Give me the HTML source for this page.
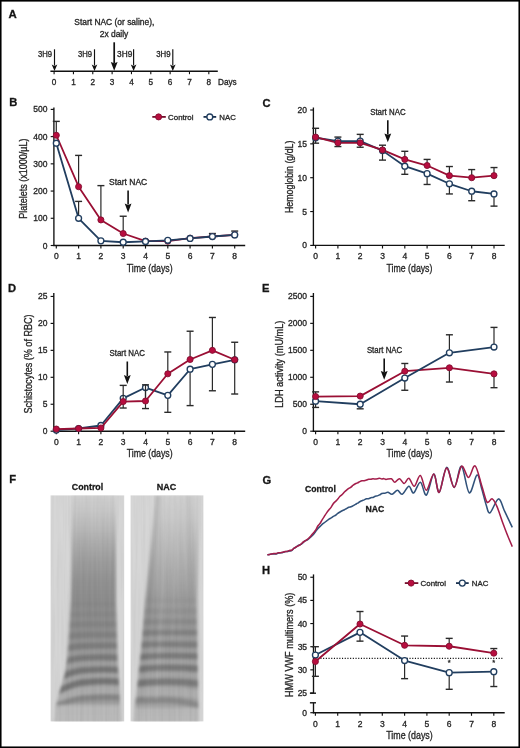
<!DOCTYPE html>
<html><head><meta charset="utf-8"><style>
html,body{margin:0;padding:0;background:#fff;}
#fig{position:absolute;left:0;top:0;width:520px;height:748px;}
svg text{font-family:"Liberation Sans", sans-serif;stroke:#2a2a2a;stroke-width:0.32px;}
#fig{will-change:transform;}
</style></head><body>
<svg id="fig" width="520" height="748" viewBox="0 0 520 748">
<rect x="0" y="0" width="520" height="748" fill="#fff"/>
<text x="8.50" y="17.80" font-size="11.4" text-anchor="start" font-weight="bold" fill="#111" >A</text>
<line x1="50.40" y1="71.30" x2="217.80" y2="71.30" stroke="#111" stroke-width="1.6" />
<line x1="54.10" y1="71.30" x2="54.10" y2="74.20" stroke="#111" stroke-width="1.1" />
<text x="54.10" y="85.00" font-size="8.2" text-anchor="middle" font-weight="normal" fill="#222" >0</text>
<line x1="73.44" y1="71.30" x2="73.44" y2="74.20" stroke="#111" stroke-width="1.1" />
<text x="73.44" y="85.00" font-size="8.2" text-anchor="middle" font-weight="normal" fill="#222" >1</text>
<line x1="92.78" y1="71.30" x2="92.78" y2="74.20" stroke="#111" stroke-width="1.1" />
<text x="92.78" y="85.00" font-size="8.2" text-anchor="middle" font-weight="normal" fill="#222" >2</text>
<line x1="112.12" y1="71.30" x2="112.12" y2="74.20" stroke="#111" stroke-width="1.1" />
<text x="112.12" y="85.00" font-size="8.2" text-anchor="middle" font-weight="normal" fill="#222" >3</text>
<line x1="131.46" y1="71.30" x2="131.46" y2="74.20" stroke="#111" stroke-width="1.1" />
<text x="131.46" y="85.00" font-size="8.2" text-anchor="middle" font-weight="normal" fill="#222" >4</text>
<line x1="150.80" y1="71.30" x2="150.80" y2="74.20" stroke="#111" stroke-width="1.1" />
<text x="150.80" y="85.00" font-size="8.2" text-anchor="middle" font-weight="normal" fill="#222" >5</text>
<line x1="170.14" y1="71.30" x2="170.14" y2="74.20" stroke="#111" stroke-width="1.1" />
<text x="170.14" y="85.00" font-size="8.2" text-anchor="middle" font-weight="normal" fill="#222" >6</text>
<line x1="189.48" y1="71.30" x2="189.48" y2="74.20" stroke="#111" stroke-width="1.1" />
<text x="189.48" y="85.00" font-size="8.2" text-anchor="middle" font-weight="normal" fill="#222" >7</text>
<line x1="208.82" y1="71.30" x2="208.82" y2="74.20" stroke="#111" stroke-width="1.1" />
<text x="208.82" y="85.00" font-size="8.2" text-anchor="middle" font-weight="normal" fill="#222" >8</text>
<text x="218.00" y="85.00" font-size="8.2" text-anchor="start" font-weight="normal" fill="#222" >Days</text>
<text x="114.30" y="25.00" font-size="8.4" text-anchor="middle" font-weight="normal" fill="#222" textLength="80" lengthAdjust="spacingAndGlyphs" >Start NAC (or saline),</text>
<text x="114.00" y="37.20" font-size="8.4" text-anchor="middle" font-weight="normal" fill="#222" textLength="28.6" lengthAdjust="spacingAndGlyphs" >2x daily</text>
<line x1="54.50" y1="49.30" x2="54.50" y2="65.60" stroke="#111" stroke-width="1.15" />
<path d="M51.70,64.60 L54.50,71.00 L57.30,64.60 L54.50,65.90 Z" fill="#111"/>
<text x="52.00" y="57.00" font-size="8.2" text-anchor="end" font-weight="normal" fill="#222" textLength="14.1" lengthAdjust="spacingAndGlyphs" >3H9</text>
<line x1="94.50" y1="49.30" x2="94.50" y2="65.60" stroke="#111" stroke-width="1.15" />
<path d="M91.70,64.60 L94.50,71.00 L97.30,64.60 L94.50,65.90 Z" fill="#111"/>
<text x="92.00" y="57.00" font-size="8.2" text-anchor="end" font-weight="normal" fill="#222" textLength="14.1" lengthAdjust="spacingAndGlyphs" >3H9</text>
<line x1="133.60" y1="49.30" x2="133.60" y2="65.60" stroke="#111" stroke-width="1.15" />
<path d="M130.80,64.60 L133.60,71.00 L136.40,64.60 L133.60,65.90 Z" fill="#111"/>
<text x="132.30" y="57.00" font-size="8.2" text-anchor="end" font-weight="normal" fill="#222" textLength="15.2" lengthAdjust="spacingAndGlyphs" >3H9</text>
<line x1="172.80" y1="49.30" x2="172.80" y2="65.60" stroke="#111" stroke-width="1.15" />
<path d="M170.00,64.60 L172.80,71.00 L175.60,64.60 L172.80,65.90 Z" fill="#111"/>
<text x="170.50" y="57.00" font-size="8.2" text-anchor="end" font-weight="normal" fill="#222" textLength="14.3" lengthAdjust="spacingAndGlyphs" >3H9</text>
<line x1="114.20" y1="42.30" x2="114.20" y2="63.00" stroke="#111" stroke-width="1.7" />
<path d="M110.80,62.00 L114.20,70.70 L117.60,62.00 L114.20,63.30 Z" fill="#111"/>
<line x1="53.90" y1="107.50" x2="53.90" y2="246.10" stroke="#111" stroke-width="1.35" />
<line x1="53.30" y1="245.50" x2="245.20" y2="245.50" stroke="#111" stroke-width="1.35" />
<line x1="50.70" y1="245.50" x2="53.90" y2="245.50" stroke="#111" stroke-width="1.15" />
<text x="47.50" y="248.50" font-size="8.5" text-anchor="end" font-weight="normal" fill="#222" >0</text>
<line x1="50.70" y1="218.28" x2="53.90" y2="218.28" stroke="#111" stroke-width="1.15" />
<text x="47.50" y="221.28" font-size="8.5" text-anchor="end" font-weight="normal" fill="#222" >100</text>
<line x1="50.70" y1="191.06" x2="53.90" y2="191.06" stroke="#111" stroke-width="1.15" />
<text x="47.50" y="194.06" font-size="8.5" text-anchor="end" font-weight="normal" fill="#222" >200</text>
<line x1="50.70" y1="163.84" x2="53.90" y2="163.84" stroke="#111" stroke-width="1.15" />
<text x="47.50" y="166.84" font-size="8.5" text-anchor="end" font-weight="normal" fill="#222" >300</text>
<line x1="50.70" y1="136.62" x2="53.90" y2="136.62" stroke="#111" stroke-width="1.15" />
<text x="47.50" y="139.62" font-size="8.5" text-anchor="end" font-weight="normal" fill="#222" >400</text>
<line x1="50.70" y1="109.40" x2="53.90" y2="109.40" stroke="#111" stroke-width="1.15" />
<text x="47.50" y="112.40" font-size="8.5" text-anchor="end" font-weight="normal" fill="#222" >500</text>
<line x1="56.30" y1="245.50" x2="56.30" y2="248.60" stroke="#111" stroke-width="1.15" />
<text x="56.30" y="259.30" font-size="8.5" text-anchor="middle" font-weight="normal" fill="#222" >0</text>
<line x1="78.60" y1="245.50" x2="78.60" y2="248.60" stroke="#111" stroke-width="1.15" />
<text x="78.60" y="259.30" font-size="8.5" text-anchor="middle" font-weight="normal" fill="#222" >1</text>
<line x1="100.90" y1="245.50" x2="100.90" y2="248.60" stroke="#111" stroke-width="1.15" />
<text x="100.90" y="259.30" font-size="8.5" text-anchor="middle" font-weight="normal" fill="#222" >2</text>
<line x1="123.20" y1="245.50" x2="123.20" y2="248.60" stroke="#111" stroke-width="1.15" />
<text x="123.20" y="259.30" font-size="8.5" text-anchor="middle" font-weight="normal" fill="#222" >3</text>
<line x1="145.50" y1="245.50" x2="145.50" y2="248.60" stroke="#111" stroke-width="1.15" />
<text x="145.50" y="259.30" font-size="8.5" text-anchor="middle" font-weight="normal" fill="#222" >4</text>
<line x1="167.80" y1="245.50" x2="167.80" y2="248.60" stroke="#111" stroke-width="1.15" />
<text x="167.80" y="259.30" font-size="8.5" text-anchor="middle" font-weight="normal" fill="#222" >5</text>
<line x1="190.10" y1="245.50" x2="190.10" y2="248.60" stroke="#111" stroke-width="1.15" />
<text x="190.10" y="259.30" font-size="8.5" text-anchor="middle" font-weight="normal" fill="#222" >6</text>
<line x1="212.40" y1="245.50" x2="212.40" y2="248.60" stroke="#111" stroke-width="1.15" />
<text x="212.40" y="259.30" font-size="8.5" text-anchor="middle" font-weight="normal" fill="#222" >7</text>
<line x1="234.70" y1="245.50" x2="234.70" y2="248.60" stroke="#111" stroke-width="1.15" />
<text x="234.70" y="259.30" font-size="8.5" text-anchor="middle" font-weight="normal" fill="#222" >8</text>
<text x="149.70" y="271.70" font-size="10.4" text-anchor="middle" font-weight="normal" fill="#222" textLength="45.8" lengthAdjust="spacingAndGlyphs" >Time (days)</text>
<text x="0" y="0" font-size="10.3" text-anchor="middle" fill="#222" textLength="80.2" lengthAdjust="spacingAndGlyphs" transform="translate(27.20,178.60) rotate(-90)">Platelets (x1000/µL)</text>
<text x="9.30" y="105.60" font-size="11.2" text-anchor="start" font-weight="bold" fill="#111" >B</text>
<line x1="56.30" y1="135.26" x2="56.30" y2="121.38" stroke="#2a2a2a" stroke-width="1.2" />
<line x1="52.80" y1="121.38" x2="59.80" y2="121.38" stroke="#2a2a2a" stroke-width="1.4" />
<line x1="78.60" y1="186.70" x2="78.60" y2="155.40" stroke="#2a2a2a" stroke-width="1.2" />
<line x1="75.10" y1="155.40" x2="82.10" y2="155.40" stroke="#2a2a2a" stroke-width="1.4" />
<line x1="100.90" y1="219.91" x2="100.90" y2="185.62" stroke="#2a2a2a" stroke-width="1.2" />
<line x1="97.40" y1="185.62" x2="104.40" y2="185.62" stroke="#2a2a2a" stroke-width="1.4" />
<line x1="123.20" y1="233.52" x2="123.20" y2="216.24" stroke="#2a2a2a" stroke-width="1.2" />
<line x1="119.70" y1="216.24" x2="126.70" y2="216.24" stroke="#2a2a2a" stroke-width="1.4" />
<line x1="78.60" y1="218.28" x2="78.60" y2="201.40" stroke="#2a2a2a" stroke-width="1.2" />
<line x1="75.10" y1="201.40" x2="82.10" y2="201.40" stroke="#2a2a2a" stroke-width="1.4" />
<line x1="212.40" y1="236.52" x2="212.40" y2="233.52" stroke="#2a2a2a" stroke-width="1.2" />
<line x1="208.90" y1="233.52" x2="215.90" y2="233.52" stroke="#2a2a2a" stroke-width="1.4" />
<line x1="234.70" y1="234.88" x2="234.70" y2="231.07" stroke="#2a2a2a" stroke-width="1.2" />
<line x1="231.20" y1="231.07" x2="238.20" y2="231.07" stroke="#2a2a2a" stroke-width="1.4" />
<path d="M56.30,135.26 L78.60,186.70 L100.90,219.91 L123.20,233.52 L145.50,241.14 L167.80,241.14 L190.10,238.15 L212.40,236.52 L234.70,234.88" fill="none" stroke="#9a0f34" stroke-width="1.8" stroke-linejoin="round"/>
<path d="M56.30,143.15 L78.60,218.28 L100.90,240.87 L123.20,242.23 L145.50,241.42 L167.80,240.33 L190.10,238.42 L212.40,236.52 L234.70,234.88" fill="none" stroke="#213e5f" stroke-width="1.8" stroke-linejoin="round"/>
<circle cx="56.30" cy="135.26" r="3.05" fill="#b80d3f" stroke="#820e30" stroke-width="0.9"/>
<circle cx="78.60" cy="186.70" r="3.05" fill="#b80d3f" stroke="#820e30" stroke-width="0.9"/>
<circle cx="100.90" cy="219.91" r="3.05" fill="#b80d3f" stroke="#820e30" stroke-width="0.9"/>
<circle cx="123.20" cy="233.52" r="3.05" fill="#b80d3f" stroke="#820e30" stroke-width="0.9"/>
<circle cx="145.50" cy="241.14" r="3.05" fill="#b80d3f" stroke="#820e30" stroke-width="0.9"/>
<circle cx="167.80" cy="241.14" r="3.05" fill="#b80d3f" stroke="#820e30" stroke-width="0.9"/>
<circle cx="190.10" cy="238.15" r="3.05" fill="#b80d3f" stroke="#820e30" stroke-width="0.9"/>
<circle cx="212.40" cy="236.52" r="3.05" fill="#b80d3f" stroke="#820e30" stroke-width="0.9"/>
<circle cx="234.70" cy="234.88" r="3.05" fill="#b80d3f" stroke="#820e30" stroke-width="0.9"/>
<circle cx="56.30" cy="143.15" r="2.95" fill="#fff" stroke="#213e5f" stroke-width="1.35"/>
<circle cx="78.60" cy="218.28" r="2.95" fill="#fff" stroke="#213e5f" stroke-width="1.35"/>
<circle cx="100.90" cy="240.87" r="2.95" fill="#fff" stroke="#213e5f" stroke-width="1.35"/>
<circle cx="123.20" cy="242.23" r="2.95" fill="#fff" stroke="#213e5f" stroke-width="1.35"/>
<circle cx="145.50" cy="241.42" r="2.95" fill="#fff" stroke="#213e5f" stroke-width="1.35"/>
<circle cx="167.80" cy="240.33" r="2.95" fill="#fff" stroke="#213e5f" stroke-width="1.35"/>
<circle cx="190.10" cy="238.42" r="2.95" fill="#fff" stroke="#213e5f" stroke-width="1.35"/>
<circle cx="212.40" cy="236.52" r="2.95" fill="#fff" stroke="#213e5f" stroke-width="1.35"/>
<circle cx="234.70" cy="234.88" r="2.95" fill="#fff" stroke="#213e5f" stroke-width="1.35"/>
<line x1="152.30" y1="116.90" x2="165.80" y2="116.90" stroke="#74102c" stroke-width="1.8" />
<circle cx="158.60" cy="116.90" r="3.05" fill="#b80d3f" stroke="#820e30" stroke-width="0.9"/>
<text x="168.10" y="119.80" font-size="7.9" text-anchor="start" font-weight="normal" fill="#222" textLength="25.4" lengthAdjust="spacingAndGlyphs" >Control</text>
<line x1="203.50" y1="116.90" x2="216.20" y2="116.90" stroke="#1c3350" stroke-width="1.8" />
<circle cx="209.80" cy="116.90" r="2.95" fill="#fff" stroke="#213e5f" stroke-width="1.35"/>
<text x="219.30" y="119.80" font-size="7.9" text-anchor="start" font-weight="normal" fill="#222" textLength="16.5" lengthAdjust="spacingAndGlyphs" >NAC</text>
<text x="109.00" y="185.00" font-size="8.6" text-anchor="start" font-weight="normal" fill="#222" textLength="38.2" lengthAdjust="spacingAndGlyphs" >Start NAC</text>
<line x1="128.10" y1="190.60" x2="128.10" y2="204.60" stroke="#111" stroke-width="1.6" />
<path d="M124.70,203.60 L128.10,212.40 L131.50,203.60 L128.10,204.90 Z" fill="#111"/>
<line x1="313.40" y1="107.50" x2="313.40" y2="246.00" stroke="#111" stroke-width="1.35" />
<line x1="312.80" y1="245.40" x2="504.70" y2="245.40" stroke="#111" stroke-width="1.35" />
<line x1="310.20" y1="245.40" x2="313.40" y2="245.40" stroke="#111" stroke-width="1.15" />
<text x="307.00" y="248.40" font-size="8.5" text-anchor="end" font-weight="normal" fill="#222" >0</text>
<line x1="310.20" y1="211.55" x2="313.40" y2="211.55" stroke="#111" stroke-width="1.15" />
<text x="307.00" y="214.55" font-size="8.5" text-anchor="end" font-weight="normal" fill="#222" >5</text>
<line x1="310.20" y1="177.70" x2="313.40" y2="177.70" stroke="#111" stroke-width="1.15" />
<text x="307.00" y="180.70" font-size="8.5" text-anchor="end" font-weight="normal" fill="#222" >10</text>
<line x1="310.20" y1="143.85" x2="313.40" y2="143.85" stroke="#111" stroke-width="1.15" />
<text x="307.00" y="146.85" font-size="8.5" text-anchor="end" font-weight="normal" fill="#222" >15</text>
<line x1="310.20" y1="110.00" x2="313.40" y2="110.00" stroke="#111" stroke-width="1.15" />
<text x="307.00" y="113.00" font-size="8.5" text-anchor="end" font-weight="normal" fill="#222" >20</text>
<line x1="315.60" y1="245.40" x2="315.60" y2="248.50" stroke="#111" stroke-width="1.15" />
<text x="315.60" y="259.20" font-size="8.5" text-anchor="middle" font-weight="normal" fill="#222" >0</text>
<line x1="337.90" y1="245.40" x2="337.90" y2="248.50" stroke="#111" stroke-width="1.15" />
<text x="337.90" y="259.20" font-size="8.5" text-anchor="middle" font-weight="normal" fill="#222" >1</text>
<line x1="360.20" y1="245.40" x2="360.20" y2="248.50" stroke="#111" stroke-width="1.15" />
<text x="360.20" y="259.20" font-size="8.5" text-anchor="middle" font-weight="normal" fill="#222" >2</text>
<line x1="382.50" y1="245.40" x2="382.50" y2="248.50" stroke="#111" stroke-width="1.15" />
<text x="382.50" y="259.20" font-size="8.5" text-anchor="middle" font-weight="normal" fill="#222" >3</text>
<line x1="404.80" y1="245.40" x2="404.80" y2="248.50" stroke="#111" stroke-width="1.15" />
<text x="404.80" y="259.20" font-size="8.5" text-anchor="middle" font-weight="normal" fill="#222" >4</text>
<line x1="427.10" y1="245.40" x2="427.10" y2="248.50" stroke="#111" stroke-width="1.15" />
<text x="427.10" y="259.20" font-size="8.5" text-anchor="middle" font-weight="normal" fill="#222" >5</text>
<line x1="449.40" y1="245.40" x2="449.40" y2="248.50" stroke="#111" stroke-width="1.15" />
<text x="449.40" y="259.20" font-size="8.5" text-anchor="middle" font-weight="normal" fill="#222" >6</text>
<line x1="471.70" y1="245.40" x2="471.70" y2="248.50" stroke="#111" stroke-width="1.15" />
<text x="471.70" y="259.20" font-size="8.5" text-anchor="middle" font-weight="normal" fill="#222" >7</text>
<line x1="494.00" y1="245.40" x2="494.00" y2="248.50" stroke="#111" stroke-width="1.15" />
<text x="494.00" y="259.20" font-size="8.5" text-anchor="middle" font-weight="normal" fill="#222" >8</text>
<text x="409.50" y="271.60" font-size="10.4" text-anchor="middle" font-weight="normal" fill="#222" textLength="45.8" lengthAdjust="spacingAndGlyphs" >Time (days)</text>
<text x="0" y="0" font-size="10.3" text-anchor="middle" fill="#222" textLength="72.4" lengthAdjust="spacingAndGlyphs" transform="translate(292.60,176.80) rotate(-90)">Hemoglobin (g/dL)</text>
<text x="262.50" y="106.80" font-size="11.2" text-anchor="start" font-weight="bold" fill="#111" >C</text>
<line x1="315.60" y1="137.08" x2="315.60" y2="128.28" stroke="#2a2a2a" stroke-width="1.2" />
<line x1="312.10" y1="128.28" x2="319.10" y2="128.28" stroke="#2a2a2a" stroke-width="1.4" />
<line x1="315.60" y1="137.76" x2="315.60" y2="143.17" stroke="#2a2a2a" stroke-width="1.2" />
<line x1="312.10" y1="143.17" x2="319.10" y2="143.17" stroke="#2a2a2a" stroke-width="1.4" />
<line x1="337.90" y1="142.83" x2="337.90" y2="137.08" stroke="#2a2a2a" stroke-width="1.2" />
<line x1="334.40" y1="137.08" x2="341.40" y2="137.08" stroke="#2a2a2a" stroke-width="1.4" />
<line x1="337.90" y1="141.14" x2="337.90" y2="146.56" stroke="#2a2a2a" stroke-width="1.2" />
<line x1="334.40" y1="146.56" x2="341.40" y2="146.56" stroke="#2a2a2a" stroke-width="1.4" />
<line x1="360.20" y1="142.83" x2="360.20" y2="134.37" stroke="#2a2a2a" stroke-width="1.2" />
<line x1="356.70" y1="134.37" x2="363.70" y2="134.37" stroke="#2a2a2a" stroke-width="1.4" />
<line x1="360.20" y1="141.14" x2="360.20" y2="147.24" stroke="#2a2a2a" stroke-width="1.2" />
<line x1="356.70" y1="147.24" x2="363.70" y2="147.24" stroke="#2a2a2a" stroke-width="1.4" />
<line x1="382.50" y1="149.94" x2="382.50" y2="145.20" stroke="#2a2a2a" stroke-width="1.2" />
<line x1="379.00" y1="145.20" x2="386.00" y2="145.20" stroke="#2a2a2a" stroke-width="1.4" />
<line x1="382.50" y1="150.62" x2="382.50" y2="160.10" stroke="#2a2a2a" stroke-width="1.2" />
<line x1="379.00" y1="160.10" x2="386.00" y2="160.10" stroke="#2a2a2a" stroke-width="1.4" />
<line x1="404.80" y1="159.42" x2="404.80" y2="151.30" stroke="#2a2a2a" stroke-width="1.2" />
<line x1="401.30" y1="151.30" x2="408.30" y2="151.30" stroke="#2a2a2a" stroke-width="1.4" />
<line x1="404.80" y1="166.19" x2="404.80" y2="174.31" stroke="#2a2a2a" stroke-width="1.2" />
<line x1="401.30" y1="174.31" x2="408.30" y2="174.31" stroke="#2a2a2a" stroke-width="1.4" />
<line x1="427.10" y1="165.51" x2="427.10" y2="159.42" stroke="#2a2a2a" stroke-width="1.2" />
<line x1="423.60" y1="159.42" x2="430.60" y2="159.42" stroke="#2a2a2a" stroke-width="1.4" />
<line x1="427.10" y1="173.64" x2="427.10" y2="184.47" stroke="#2a2a2a" stroke-width="1.2" />
<line x1="423.60" y1="184.47" x2="430.60" y2="184.47" stroke="#2a2a2a" stroke-width="1.4" />
<line x1="449.40" y1="175.67" x2="449.40" y2="166.53" stroke="#2a2a2a" stroke-width="1.2" />
<line x1="445.90" y1="166.53" x2="452.90" y2="166.53" stroke="#2a2a2a" stroke-width="1.4" />
<line x1="449.40" y1="183.79" x2="449.40" y2="193.95" stroke="#2a2a2a" stroke-width="1.2" />
<line x1="445.90" y1="193.95" x2="452.90" y2="193.95" stroke="#2a2a2a" stroke-width="1.4" />
<line x1="471.70" y1="177.70" x2="471.70" y2="169.58" stroke="#2a2a2a" stroke-width="1.2" />
<line x1="468.20" y1="169.58" x2="475.20" y2="169.58" stroke="#2a2a2a" stroke-width="1.4" />
<line x1="471.70" y1="191.24" x2="471.70" y2="200.72" stroke="#2a2a2a" stroke-width="1.2" />
<line x1="468.20" y1="200.72" x2="475.20" y2="200.72" stroke="#2a2a2a" stroke-width="1.4" />
<line x1="494.00" y1="175.67" x2="494.00" y2="167.55" stroke="#2a2a2a" stroke-width="1.2" />
<line x1="490.50" y1="167.55" x2="497.50" y2="167.55" stroke="#2a2a2a" stroke-width="1.4" />
<line x1="494.00" y1="193.95" x2="494.00" y2="206.13" stroke="#2a2a2a" stroke-width="1.2" />
<line x1="490.50" y1="206.13" x2="497.50" y2="206.13" stroke="#2a2a2a" stroke-width="1.4" />
<path d="M315.60,137.76 L337.90,141.14 L360.20,141.14 L382.50,150.62 L404.80,166.19 L427.10,173.64 L449.40,183.79 L471.70,191.24 L494.00,193.95" fill="none" stroke="#213e5f" stroke-width="1.8" stroke-linejoin="round"/>
<path d="M315.60,137.08 L337.90,142.83 L360.20,142.83 L382.50,149.94 L404.80,159.42 L427.10,165.51 L449.40,175.67 L471.70,177.70 L494.00,175.67" fill="none" stroke="#9a0f34" stroke-width="1.8" stroke-linejoin="round"/>
<circle cx="315.60" cy="137.76" r="2.95" fill="#fff" stroke="#213e5f" stroke-width="1.35"/>
<circle cx="337.90" cy="141.14" r="2.95" fill="#fff" stroke="#213e5f" stroke-width="1.35"/>
<circle cx="360.20" cy="141.14" r="2.95" fill="#fff" stroke="#213e5f" stroke-width="1.35"/>
<circle cx="382.50" cy="150.62" r="2.95" fill="#fff" stroke="#213e5f" stroke-width="1.35"/>
<circle cx="404.80" cy="166.19" r="2.95" fill="#fff" stroke="#213e5f" stroke-width="1.35"/>
<circle cx="427.10" cy="173.64" r="2.95" fill="#fff" stroke="#213e5f" stroke-width="1.35"/>
<circle cx="449.40" cy="183.79" r="2.95" fill="#fff" stroke="#213e5f" stroke-width="1.35"/>
<circle cx="471.70" cy="191.24" r="2.95" fill="#fff" stroke="#213e5f" stroke-width="1.35"/>
<circle cx="494.00" cy="193.95" r="2.95" fill="#fff" stroke="#213e5f" stroke-width="1.35"/>
<circle cx="315.60" cy="137.08" r="3.05" fill="#b80d3f" stroke="#820e30" stroke-width="0.9"/>
<circle cx="337.90" cy="142.83" r="3.05" fill="#b80d3f" stroke="#820e30" stroke-width="0.9"/>
<circle cx="360.20" cy="142.83" r="3.05" fill="#b80d3f" stroke="#820e30" stroke-width="0.9"/>
<circle cx="382.50" cy="149.94" r="3.05" fill="#b80d3f" stroke="#820e30" stroke-width="0.9"/>
<circle cx="404.80" cy="159.42" r="3.05" fill="#b80d3f" stroke="#820e30" stroke-width="0.9"/>
<circle cx="427.10" cy="165.51" r="3.05" fill="#b80d3f" stroke="#820e30" stroke-width="0.9"/>
<circle cx="449.40" cy="175.67" r="3.05" fill="#b80d3f" stroke="#820e30" stroke-width="0.9"/>
<circle cx="471.70" cy="177.70" r="3.05" fill="#b80d3f" stroke="#820e30" stroke-width="0.9"/>
<circle cx="494.00" cy="175.67" r="3.05" fill="#b80d3f" stroke="#820e30" stroke-width="0.9"/>
<text x="370.20" y="115.20" font-size="8.4" text-anchor="start" font-weight="normal" fill="#222" textLength="35.4" lengthAdjust="spacingAndGlyphs" >Start NAC</text>
<line x1="387.80" y1="120.20" x2="387.80" y2="134.40" stroke="#111" stroke-width="1.6" />
<path d="M384.40,133.40 L387.80,142.20 L391.20,133.40 L387.80,134.70 Z" fill="#111"/>
<line x1="53.80" y1="293.00" x2="53.80" y2="431.80" stroke="#111" stroke-width="1.35" />
<line x1="53.20" y1="431.20" x2="245.20" y2="431.20" stroke="#111" stroke-width="1.35" />
<line x1="50.60" y1="431.20" x2="53.80" y2="431.20" stroke="#111" stroke-width="1.15" />
<text x="47.40" y="434.20" font-size="8.5" text-anchor="end" font-weight="normal" fill="#222" >0</text>
<line x1="50.60" y1="404.25" x2="53.80" y2="404.25" stroke="#111" stroke-width="1.15" />
<text x="47.40" y="407.25" font-size="8.5" text-anchor="end" font-weight="normal" fill="#222" >5</text>
<line x1="50.60" y1="377.30" x2="53.80" y2="377.30" stroke="#111" stroke-width="1.15" />
<text x="47.40" y="380.30" font-size="8.5" text-anchor="end" font-weight="normal" fill="#222" >10</text>
<line x1="50.60" y1="350.35" x2="53.80" y2="350.35" stroke="#111" stroke-width="1.15" />
<text x="47.40" y="353.35" font-size="8.5" text-anchor="end" font-weight="normal" fill="#222" >15</text>
<line x1="50.60" y1="323.40" x2="53.80" y2="323.40" stroke="#111" stroke-width="1.15" />
<text x="47.40" y="326.40" font-size="8.5" text-anchor="end" font-weight="normal" fill="#222" >20</text>
<line x1="50.60" y1="296.45" x2="53.80" y2="296.45" stroke="#111" stroke-width="1.15" />
<text x="47.40" y="299.45" font-size="8.5" text-anchor="end" font-weight="normal" fill="#222" >25</text>
<line x1="56.30" y1="431.20" x2="56.30" y2="434.30" stroke="#111" stroke-width="1.15" />
<text x="56.30" y="445.00" font-size="8.5" text-anchor="middle" font-weight="normal" fill="#222" >0</text>
<line x1="78.60" y1="431.20" x2="78.60" y2="434.30" stroke="#111" stroke-width="1.15" />
<text x="78.60" y="445.00" font-size="8.5" text-anchor="middle" font-weight="normal" fill="#222" >1</text>
<line x1="100.90" y1="431.20" x2="100.90" y2="434.30" stroke="#111" stroke-width="1.15" />
<text x="100.90" y="445.00" font-size="8.5" text-anchor="middle" font-weight="normal" fill="#222" >2</text>
<line x1="123.20" y1="431.20" x2="123.20" y2="434.30" stroke="#111" stroke-width="1.15" />
<text x="123.20" y="445.00" font-size="8.5" text-anchor="middle" font-weight="normal" fill="#222" >3</text>
<line x1="145.50" y1="431.20" x2="145.50" y2="434.30" stroke="#111" stroke-width="1.15" />
<text x="145.50" y="445.00" font-size="8.5" text-anchor="middle" font-weight="normal" fill="#222" >4</text>
<line x1="167.80" y1="431.20" x2="167.80" y2="434.30" stroke="#111" stroke-width="1.15" />
<text x="167.80" y="445.00" font-size="8.5" text-anchor="middle" font-weight="normal" fill="#222" >5</text>
<line x1="190.10" y1="431.20" x2="190.10" y2="434.30" stroke="#111" stroke-width="1.15" />
<text x="190.10" y="445.00" font-size="8.5" text-anchor="middle" font-weight="normal" fill="#222" >6</text>
<line x1="212.40" y1="431.20" x2="212.40" y2="434.30" stroke="#111" stroke-width="1.15" />
<text x="212.40" y="445.00" font-size="8.5" text-anchor="middle" font-weight="normal" fill="#222" >7</text>
<line x1="234.70" y1="431.20" x2="234.70" y2="434.30" stroke="#111" stroke-width="1.15" />
<text x="234.70" y="445.00" font-size="8.5" text-anchor="middle" font-weight="normal" fill="#222" >8</text>
<text x="149.70" y="457.40" font-size="10.4" text-anchor="middle" font-weight="normal" fill="#222" textLength="45.8" lengthAdjust="spacingAndGlyphs" >Time (days)</text>
<text x="0" y="0" font-size="10.3" text-anchor="middle" fill="#222" textLength="99.2" lengthAdjust="spacingAndGlyphs" transform="translate(31.70,364.00) rotate(-90)">Schistocytes (% of RBC)</text>
<text x="8.00" y="292.30" font-size="11.2" text-anchor="start" font-weight="bold" fill="#111" >D</text>
<line x1="123.20" y1="398.32" x2="123.20" y2="408.02" stroke="#2a2a2a" stroke-width="1.2" />
<line x1="119.70" y1="408.02" x2="126.70" y2="408.02" stroke="#2a2a2a" stroke-width="1.4" />
<line x1="145.50" y1="387.54" x2="145.50" y2="408.56" stroke="#2a2a2a" stroke-width="1.2" />
<line x1="142.00" y1="408.56" x2="149.00" y2="408.56" stroke="#2a2a2a" stroke-width="1.4" />
<line x1="167.80" y1="395.36" x2="167.80" y2="412.33" stroke="#2a2a2a" stroke-width="1.2" />
<line x1="164.30" y1="412.33" x2="171.30" y2="412.33" stroke="#2a2a2a" stroke-width="1.4" />
<line x1="190.10" y1="369.21" x2="190.10" y2="405.60" stroke="#2a2a2a" stroke-width="1.2" />
<line x1="186.60" y1="405.60" x2="193.60" y2="405.60" stroke="#2a2a2a" stroke-width="1.4" />
<line x1="212.40" y1="364.36" x2="212.40" y2="390.77" stroke="#2a2a2a" stroke-width="1.2" />
<line x1="208.90" y1="390.77" x2="215.90" y2="390.77" stroke="#2a2a2a" stroke-width="1.4" />
<line x1="234.70" y1="359.78" x2="234.70" y2="394.01" stroke="#2a2a2a" stroke-width="1.2" />
<line x1="231.20" y1="394.01" x2="238.20" y2="394.01" stroke="#2a2a2a" stroke-width="1.4" />
<path d="M56.30,430.12 L78.60,428.50 L100.90,425.49 L123.20,398.32 L145.50,387.54 L167.80,395.36 L190.10,369.21 L212.40,364.36 L234.70,359.78" fill="none" stroke="#213e5f" stroke-width="1.8" stroke-linejoin="round"/>
<circle cx="56.30" cy="430.12" r="2.95" fill="#fff" stroke="#213e5f" stroke-width="1.35"/>
<circle cx="78.60" cy="428.50" r="2.95" fill="#fff" stroke="#213e5f" stroke-width="1.35"/>
<circle cx="100.90" cy="425.49" r="2.95" fill="#fff" stroke="#213e5f" stroke-width="1.35"/>
<circle cx="123.20" cy="398.32" r="2.95" fill="#fff" stroke="#213e5f" stroke-width="1.35"/>
<circle cx="145.50" cy="387.54" r="2.95" fill="#fff" stroke="#213e5f" stroke-width="1.35"/>
<circle cx="167.80" cy="395.36" r="2.95" fill="#fff" stroke="#213e5f" stroke-width="1.35"/>
<circle cx="190.10" cy="369.21" r="2.95" fill="#fff" stroke="#213e5f" stroke-width="1.35"/>
<circle cx="212.40" cy="364.36" r="2.95" fill="#fff" stroke="#213e5f" stroke-width="1.35"/>
<circle cx="234.70" cy="359.78" r="2.95" fill="#fff" stroke="#213e5f" stroke-width="1.35"/>
<line x1="123.20" y1="401.56" x2="123.20" y2="385.38" stroke="#2a2a2a" stroke-width="1.2" />
<line x1="119.70" y1="385.38" x2="126.70" y2="385.38" stroke="#2a2a2a" stroke-width="1.4" />
<line x1="145.50" y1="401.02" x2="145.50" y2="384.85" stroke="#2a2a2a" stroke-width="1.2" />
<line x1="142.00" y1="384.85" x2="149.00" y2="384.85" stroke="#2a2a2a" stroke-width="1.4" />
<line x1="167.80" y1="373.80" x2="167.80" y2="351.97" stroke="#2a2a2a" stroke-width="1.2" />
<line x1="164.30" y1="351.97" x2="171.30" y2="351.97" stroke="#2a2a2a" stroke-width="1.4" />
<line x1="190.10" y1="359.51" x2="190.10" y2="331.22" stroke="#2a2a2a" stroke-width="1.2" />
<line x1="186.60" y1="331.22" x2="193.60" y2="331.22" stroke="#2a2a2a" stroke-width="1.4" />
<line x1="212.40" y1="350.35" x2="212.40" y2="317.47" stroke="#2a2a2a" stroke-width="1.2" />
<line x1="208.90" y1="317.47" x2="215.90" y2="317.47" stroke="#2a2a2a" stroke-width="1.4" />
<line x1="234.70" y1="359.78" x2="234.70" y2="342.26" stroke="#2a2a2a" stroke-width="1.2" />
<line x1="231.20" y1="342.26" x2="238.20" y2="342.26" stroke="#2a2a2a" stroke-width="1.4" />
<path d="M56.30,429.04 L78.60,428.50 L100.90,427.97 L123.20,401.56 L145.50,401.02 L167.80,373.80 L190.10,359.51 L212.40,350.35 L234.70,359.78" fill="none" stroke="#9a0f34" stroke-width="1.8" stroke-linejoin="round"/>
<circle cx="56.30" cy="429.04" r="3.05" fill="#b80d3f" stroke="#820e30" stroke-width="0.9"/>
<circle cx="78.60" cy="428.50" r="3.05" fill="#b80d3f" stroke="#820e30" stroke-width="0.9"/>
<circle cx="100.90" cy="427.97" r="3.05" fill="#b80d3f" stroke="#820e30" stroke-width="0.9"/>
<circle cx="123.20" cy="401.56" r="3.05" fill="#b80d3f" stroke="#820e30" stroke-width="0.9"/>
<circle cx="145.50" cy="401.02" r="3.05" fill="#b80d3f" stroke="#820e30" stroke-width="0.9"/>
<circle cx="167.80" cy="373.80" r="3.05" fill="#b80d3f" stroke="#820e30" stroke-width="0.9"/>
<circle cx="190.10" cy="359.51" r="3.05" fill="#b80d3f" stroke="#820e30" stroke-width="0.9"/>
<circle cx="212.40" cy="350.35" r="3.05" fill="#b80d3f" stroke="#820e30" stroke-width="0.9"/>
<circle cx="234.70" cy="359.78" r="3.05" fill="#b80d3f" stroke="#820e30" stroke-width="0.9"/>
<text x="109.50" y="356.20" font-size="8.4" text-anchor="start" font-weight="normal" fill="#222" textLength="35.4" lengthAdjust="spacingAndGlyphs" >Start NAC</text>
<line x1="127.30" y1="361.50" x2="127.30" y2="376.10" stroke="#111" stroke-width="1.6" />
<path d="M123.90,375.10 L127.30,383.90 L130.70,375.10 L127.30,376.40 Z" fill="#111"/>
<line x1="313.40" y1="293.00" x2="313.40" y2="431.80" stroke="#111" stroke-width="1.35" />
<line x1="312.80" y1="431.20" x2="504.70" y2="431.20" stroke="#111" stroke-width="1.35" />
<line x1="310.20" y1="431.20" x2="313.40" y2="431.20" stroke="#111" stroke-width="1.15" />
<text x="307.00" y="434.20" font-size="8.5" text-anchor="end" font-weight="normal" fill="#222" >0</text>
<line x1="310.20" y1="404.24" x2="313.40" y2="404.24" stroke="#111" stroke-width="1.15" />
<text x="307.00" y="407.24" font-size="8.5" text-anchor="end" font-weight="normal" fill="#222" >500</text>
<line x1="310.20" y1="377.28" x2="313.40" y2="377.28" stroke="#111" stroke-width="1.15" />
<text x="307.00" y="380.28" font-size="8.5" text-anchor="end" font-weight="normal" fill="#222" >1000</text>
<line x1="310.20" y1="350.32" x2="313.40" y2="350.32" stroke="#111" stroke-width="1.15" />
<text x="307.00" y="353.32" font-size="8.5" text-anchor="end" font-weight="normal" fill="#222" >1500</text>
<line x1="310.20" y1="323.36" x2="313.40" y2="323.36" stroke="#111" stroke-width="1.15" />
<text x="307.00" y="326.36" font-size="8.5" text-anchor="end" font-weight="normal" fill="#222" >2000</text>
<line x1="310.20" y1="296.40" x2="313.40" y2="296.40" stroke="#111" stroke-width="1.15" />
<text x="307.00" y="299.40" font-size="8.5" text-anchor="end" font-weight="normal" fill="#222" >2500</text>
<line x1="315.60" y1="431.20" x2="315.60" y2="434.30" stroke="#111" stroke-width="1.15" />
<text x="315.60" y="445.00" font-size="8.5" text-anchor="middle" font-weight="normal" fill="#222" >0</text>
<line x1="337.90" y1="431.20" x2="337.90" y2="434.30" stroke="#111" stroke-width="1.15" />
<text x="337.90" y="445.00" font-size="8.5" text-anchor="middle" font-weight="normal" fill="#222" >1</text>
<line x1="360.20" y1="431.20" x2="360.20" y2="434.30" stroke="#111" stroke-width="1.15" />
<text x="360.20" y="445.00" font-size="8.5" text-anchor="middle" font-weight="normal" fill="#222" >2</text>
<line x1="382.50" y1="431.20" x2="382.50" y2="434.30" stroke="#111" stroke-width="1.15" />
<text x="382.50" y="445.00" font-size="8.5" text-anchor="middle" font-weight="normal" fill="#222" >3</text>
<line x1="404.80" y1="431.20" x2="404.80" y2="434.30" stroke="#111" stroke-width="1.15" />
<text x="404.80" y="445.00" font-size="8.5" text-anchor="middle" font-weight="normal" fill="#222" >4</text>
<line x1="427.10" y1="431.20" x2="427.10" y2="434.30" stroke="#111" stroke-width="1.15" />
<text x="427.10" y="445.00" font-size="8.5" text-anchor="middle" font-weight="normal" fill="#222" >5</text>
<line x1="449.40" y1="431.20" x2="449.40" y2="434.30" stroke="#111" stroke-width="1.15" />
<text x="449.40" y="445.00" font-size="8.5" text-anchor="middle" font-weight="normal" fill="#222" >6</text>
<line x1="471.70" y1="431.20" x2="471.70" y2="434.30" stroke="#111" stroke-width="1.15" />
<text x="471.70" y="445.00" font-size="8.5" text-anchor="middle" font-weight="normal" fill="#222" >7</text>
<line x1="494.00" y1="431.20" x2="494.00" y2="434.30" stroke="#111" stroke-width="1.15" />
<text x="494.00" y="445.00" font-size="8.5" text-anchor="middle" font-weight="normal" fill="#222" >8</text>
<text x="409.50" y="457.40" font-size="10.4" text-anchor="middle" font-weight="normal" fill="#222" textLength="45.8" lengthAdjust="spacingAndGlyphs" >Time (days)</text>
<text x="0" y="0" font-size="10.3" text-anchor="middle" fill="#222" textLength="87.2" lengthAdjust="spacingAndGlyphs" transform="translate(283.40,364.20) rotate(-90)">LDH activity (mU/mL)</text>
<text x="262.00" y="292.30" font-size="11.2" text-anchor="start" font-weight="bold" fill="#111" >E</text>
<line x1="315.60" y1="396.53" x2="315.60" y2="391.89" stroke="#2a2a2a" stroke-width="1.2" />
<line x1="312.10" y1="391.89" x2="319.10" y2="391.89" stroke="#2a2a2a" stroke-width="1.4" />
<line x1="404.80" y1="371.19" x2="404.80" y2="363.48" stroke="#2a2a2a" stroke-width="1.2" />
<line x1="401.30" y1="363.48" x2="408.30" y2="363.48" stroke="#2a2a2a" stroke-width="1.4" />
<line x1="449.40" y1="367.79" x2="449.40" y2="382.02" stroke="#2a2a2a" stroke-width="1.2" />
<line x1="445.90" y1="382.02" x2="452.90" y2="382.02" stroke="#2a2a2a" stroke-width="1.4" />
<line x1="494.00" y1="373.88" x2="494.00" y2="387.69" stroke="#2a2a2a" stroke-width="1.2" />
<line x1="490.50" y1="387.69" x2="497.50" y2="387.69" stroke="#2a2a2a" stroke-width="1.4" />
<line x1="315.60" y1="401.17" x2="315.60" y2="407.42" stroke="#2a2a2a" stroke-width="1.2" />
<line x1="312.10" y1="407.42" x2="319.10" y2="407.42" stroke="#2a2a2a" stroke-width="1.4" />
<line x1="360.20" y1="404.24" x2="360.20" y2="408.82" stroke="#2a2a2a" stroke-width="1.2" />
<line x1="356.70" y1="408.82" x2="363.70" y2="408.82" stroke="#2a2a2a" stroke-width="1.4" />
<line x1="404.80" y1="378.09" x2="404.80" y2="390.27" stroke="#2a2a2a" stroke-width="1.2" />
<line x1="401.30" y1="390.27" x2="408.30" y2="390.27" stroke="#2a2a2a" stroke-width="1.4" />
<line x1="449.40" y1="352.80" x2="449.40" y2="334.79" stroke="#2a2a2a" stroke-width="1.2" />
<line x1="445.90" y1="334.79" x2="452.90" y2="334.79" stroke="#2a2a2a" stroke-width="1.4" />
<line x1="494.00" y1="347.08" x2="494.00" y2="327.40" stroke="#2a2a2a" stroke-width="1.2" />
<line x1="490.50" y1="327.40" x2="497.50" y2="327.40" stroke="#2a2a2a" stroke-width="1.4" />
<path d="M315.60,396.53 L360.20,396.10 L404.80,371.19 L449.40,367.79 L494.00,373.88" fill="none" stroke="#9a0f34" stroke-width="1.8" stroke-linejoin="round"/>
<path d="M315.60,401.17 L360.20,404.24 L404.80,378.09 L449.40,352.80 L494.00,347.08" fill="none" stroke="#213e5f" stroke-width="1.8" stroke-linejoin="round"/>
<circle cx="315.60" cy="401.17" r="2.95" fill="#fff" stroke="#213e5f" stroke-width="1.35"/>
<circle cx="360.20" cy="404.24" r="2.95" fill="#fff" stroke="#213e5f" stroke-width="1.35"/>
<circle cx="404.80" cy="378.09" r="2.95" fill="#fff" stroke="#213e5f" stroke-width="1.35"/>
<circle cx="449.40" cy="352.80" r="2.95" fill="#fff" stroke="#213e5f" stroke-width="1.35"/>
<circle cx="494.00" cy="347.08" r="2.95" fill="#fff" stroke="#213e5f" stroke-width="1.35"/>
<circle cx="315.60" cy="396.53" r="3.05" fill="#b80d3f" stroke="#820e30" stroke-width="0.9"/>
<circle cx="360.20" cy="396.10" r="3.05" fill="#b80d3f" stroke="#820e30" stroke-width="0.9"/>
<circle cx="404.80" cy="371.19" r="3.05" fill="#b80d3f" stroke="#820e30" stroke-width="0.9"/>
<circle cx="449.40" cy="367.79" r="3.05" fill="#b80d3f" stroke="#820e30" stroke-width="0.9"/>
<circle cx="494.00" cy="373.88" r="3.05" fill="#b80d3f" stroke="#820e30" stroke-width="0.9"/>
<text x="366.90" y="353.30" font-size="8.4" text-anchor="start" font-weight="normal" fill="#222" textLength="35.3" lengthAdjust="spacingAndGlyphs" >Start NAC</text>
<line x1="384.20" y1="358.50" x2="384.20" y2="372.00" stroke="#111" stroke-width="1.6" />
<path d="M380.80,371.00 L384.20,379.80 L387.60,371.00 L384.20,372.30 Z" fill="#111"/>
<text x="9.30" y="483.30" font-size="11.2" text-anchor="start" font-weight="bold" fill="#111" >F</text>
<text x="87.50" y="490.30" font-size="9.6" text-anchor="middle" font-weight="bold" fill="#111" textLength="31.4" lengthAdjust="spacingAndGlyphs" >Control</text>
<text x="166.50" y="490.30" font-size="9.6" text-anchor="middle" font-weight="bold" fill="#111" textLength="19.5" lengthAdjust="spacingAndGlyphs" >NAC</text>
<defs>
<filter id="gblur" x="-10%" y="-10%" width="120%" height="120%"><feGaussianBlur stdDeviation="1.8"/></filter>
<filter id="noise" x="0" y="0" width="100%" height="100%"><feTurbulence type="fractalNoise" baseFrequency="0.35 0.012" numOctaves="2" seed="3"/>
<feColorMatrix type="matrix" values="0 0 0 0 0  0 0 0 0 0  0 0 0 0 0  0 0 0 -1.6 1.1"/></filter>
<linearGradient id="g1" x1="0" y1="495" x2="0" y2="722" gradientUnits="userSpaceOnUse">
<stop offset="0" stop-color="#cfcfcf"/><stop offset="0.066" stop-color="#c8c8c8"/><stop offset="0.154" stop-color="#b8b8b8"/><stop offset="0.22" stop-color="#aaaaaa"/>
<stop offset="0.286" stop-color="#9e9e9e"/><stop offset="0.374" stop-color="#929292"/><stop offset="0.46" stop-color="#8d8d8d"/><stop offset="0.6" stop-color="#8b8b8b"/><stop offset="0.8" stop-color="#929292"/><stop offset="1" stop-color="#a8a8a8"/></linearGradient>
<linearGradient id="g2" x1="0" y1="495" x2="0" y2="722" gradientUnits="userSpaceOnUse">
<stop offset="0" stop-color="#d0d0d0"/><stop offset="0.1" stop-color="#c9c9c9"/><stop offset="0.22" stop-color="#bababa"/><stop offset="0.32" stop-color="#adadad"/>
<stop offset="0.45" stop-color="#9d9d9d"/><stop offset="0.6" stop-color="#939393"/><stop offset="0.8" stop-color="#969696"/><stop offset="1" stop-color="#acacac"/></linearGradient>
</defs>
<rect x="50.60" y="495.4" width="73.60" height="226.00" fill="#d6d6d6"/>
<clipPath id="lc1"><rect x="50.60" y="495.4" width="73.60" height="226.00"/></clipPath>
<g clip-path="url(#lc1)">
<g filter="url(#gblur)">
<polygon points="72.00,495.40 71.80,560.00 70.80,600.00 68.50,640.00 67.00,660.00 64.50,675.00 60.00,690.00 56.00,705.00 54.50,722.00 121.00,722.00 119.50,690.00 117.50,660.00 116.00,600.00 116.00,495.40" fill="url(#g1)"/>
<clipPath id="sc1"><polygon points="72.00,495.40 71.80,560.00 70.80,600.00 68.50,640.00 67.00,660.00 64.50,675.00 60.00,690.00 56.00,705.00 54.50,722.00 121.00,722.00 119.50,690.00 117.50,660.00 116.00,600.00 116.00,495.40"/></clipPath>
<g clip-path="url(#sc1)">
<path d="M44.60,609.50 C66.60,609.50 75.40,609.50 88.60,609.50 Q108.40,609.50 128.20,609.50" fill="none" stroke="#c4c4c4" stroke-opacity="0.02" stroke-width="4.5"/>
<path d="M44.60,620.30 C66.60,619.65 75.40,619.30 88.60,619.30 Q108.40,619.30 128.20,619.30" fill="none" stroke="#c4c4c4" stroke-opacity="0.04" stroke-width="4.5"/>
<path d="M44.60,632.60 C66.60,630.65 75.40,629.60 88.60,629.60 Q108.40,629.60 128.20,629.60" fill="none" stroke="#c4c4c4" stroke-opacity="0.08" stroke-width="4.5"/>
<path d="M44.60,645.40 C66.60,642.15 75.40,640.40 88.60,640.40 Q108.40,640.40 128.20,640.40" fill="none" stroke="#c4c4c4" stroke-opacity="0.13" stroke-width="4.8"/>
<path d="M44.60,658.70 C66.60,654.15 75.40,651.70 88.60,651.70 Q108.40,651.00 128.20,651.70" fill="none" stroke="#c4c4c4" stroke-opacity="0.22" stroke-width="5.0"/>
<path d="M44.60,674.80 C66.60,667.65 75.40,663.80 88.60,663.80 Q108.40,662.60 128.20,664.80" fill="none" stroke="#c4c4c4" stroke-opacity="0.28" stroke-width="5.4"/>
<path d="M44.60,690.00 C66.60,680.90 75.40,676.00 88.60,676.00 Q108.40,674.30 128.20,677.00" fill="none" stroke="#c4c4c4" stroke-opacity="0.34" stroke-width="5.0"/>
<path d="M44.60,704.50 C66.60,695.40 75.40,690.50 88.60,690.50 Q108.40,688.80 128.20,691.50" fill="none" stroke="#c4c4c4" stroke-opacity="0.42" stroke-width="8.0"/>
<path d="M44.60,604.50 C66.60,604.50 75.40,604.50 88.60,604.50 Q108.40,604.50 128.20,604.50" fill="none" stroke="#4a4a4a" stroke-opacity="0.03" stroke-width="5.0"/>
<path d="M44.60,615.30 C66.60,614.65 75.40,614.30 88.60,614.30 Q108.40,614.30 128.20,614.30" fill="none" stroke="#4a4a4a" stroke-opacity="0.05" stroke-width="5.0"/>
<path d="M44.60,626.20 C66.60,624.90 75.40,624.20 88.60,624.20 Q108.40,624.20 128.20,624.20" fill="none" stroke="#4a4a4a" stroke-opacity="0.1" stroke-width="5.2"/>
<path d="M44.60,639.00 C66.60,636.40 75.40,635.00 88.60,635.00 Q108.40,635.00 128.20,635.00" fill="none" stroke="#4a4a4a" stroke-opacity="0.15" stroke-width="5.4"/>
<path d="M44.60,651.90 C66.60,648.00 75.40,645.90 88.60,645.90 Q108.40,645.40 128.20,645.90" fill="none" stroke="#4a4a4a" stroke-opacity="0.24" stroke-width="5.6"/>
<path d="M44.60,666.60 C66.60,660.75 75.40,657.60 88.60,657.60 Q108.40,656.60 128.20,658.60" fill="none" stroke="#4a4a4a" stroke-opacity="0.3" stroke-width="5.8"/>
<path d="M44.60,683.10 C66.60,674.65 75.40,670.10 88.60,670.10 Q108.40,668.60 128.20,671.10" fill="none" stroke="#4a4a4a" stroke-opacity="0.38" stroke-width="6.0"/>
<path d="M44.60,697.80 C66.60,687.40 75.40,681.80 88.60,681.80 Q108.40,679.80 128.20,682.80" fill="none" stroke="#4a4a4a" stroke-opacity="0.44" stroke-width="6.2"/>
<path d="M44.60,709.00 C66.60,701.85 75.40,698.00 88.60,698.00 Q108.40,696.50 128.20,698.00" fill="none" stroke="#4a4a4a" stroke-opacity="0.26" stroke-width="6.0"/>
<rect x="50.60" y="705.00" width="73.60" height="16.40" fill="#c8c8c8" opacity="0.6"/>
</g></g>
<rect x="50.60" y="495.40" width="73.60" height="226.00" filter="url(#noise)" opacity="0.04"/>
</g>
<rect x="130.60" y="495.4" width="72.80" height="226.00" fill="#d6d6d6"/>
<clipPath id="lc2"><rect x="130.60" y="495.4" width="72.80" height="226.00"/></clipPath>
<g clip-path="url(#lc2)">
<g filter="url(#gblur)">
<polygon points="155.20,495.40 151.10,539.00 146.20,588.00 145.00,600.00 140.90,650.00 137.50,683.00 135.00,703.50 133.50,722.00 198.80,722.00 196.80,600.00 199.30,495.40" fill="url(#g2)"/>
<clipPath id="sc2"><polygon points="155.20,495.40 151.10,539.00 146.20,588.00 145.00,600.00 140.90,650.00 137.50,683.00 135.00,703.50 133.50,722.00 198.80,722.00 196.80,600.00 199.30,495.40"/></clipPath>
<g clip-path="url(#sc2)">
<line x1="158" y1="495" x2="141" y2="700" stroke="#555" stroke-width="5" stroke-opacity="0.14"/>
<line x1="168" y1="495" x2="156" y2="700" stroke="#e0e0e0" stroke-width="3" stroke-opacity="0.18"/>
<line x1="189" y1="495" x2="191" y2="700" stroke="#555" stroke-width="3" stroke-opacity="0.08"/>
<line x1="178" y1="495" x2="172" y2="640" stroke="#e0e0e0" stroke-width="3" stroke-opacity="0.1"/>
<path d="M124.60,605.70 C142.60,605.70 149.80,605.70 160.60,605.70 Q184.00,605.70 207.40,605.70" fill="none" stroke="#c4c4c4" stroke-opacity="0.03" stroke-width="4.5"/>
<path d="M124.60,616.30 C142.60,616.30 149.80,616.30 160.60,616.30 Q184.00,616.30 207.40,616.30" fill="none" stroke="#c4c4c4" stroke-opacity="0.05" stroke-width="4.5"/>
<path d="M124.60,628.10 C142.60,627.45 149.80,627.10 160.60,627.10 Q184.00,627.10 207.40,627.10" fill="none" stroke="#c4c4c4" stroke-opacity="0.1" stroke-width="4.5"/>
<path d="M124.60,639.40 C142.60,638.75 149.80,638.40 160.60,638.40 Q184.00,638.40 207.40,638.40" fill="none" stroke="#c4c4c4" stroke-opacity="0.18" stroke-width="4.8"/>
<path d="M124.60,652.00 C142.60,650.70 149.80,650.00 160.60,650.00 Q184.00,650.00 207.40,651.00" fill="none" stroke="#c4c4c4" stroke-opacity="0.23" stroke-width="5.0"/>
<path d="M124.60,664.70 C142.60,662.75 149.80,661.70 160.60,661.70 Q184.00,661.20 207.40,662.70" fill="none" stroke="#c4c4c4" stroke-opacity="0.29" stroke-width="5.4"/>
<path d="M124.60,677.70 C142.60,675.75 149.80,674.70 160.60,674.70 Q184.00,674.20 207.40,676.70" fill="none" stroke="#c4c4c4" stroke-opacity="0.33" stroke-width="5.4"/>
<path d="M124.60,693.00 C142.60,691.70 149.80,691.00 160.60,691.00 Q184.00,690.50 207.40,696.00" fill="none" stroke="#c4c4c4" stroke-opacity="0.4" stroke-width="8.5"/>
<path d="M124.60,600.50 C142.60,600.50 149.80,600.50 160.60,600.50 Q184.00,600.50 207.40,600.50" fill="none" stroke="#4a4a4a" stroke-opacity="0.04" stroke-width="5.0"/>
<path d="M124.60,611.00 C142.60,611.00 149.80,611.00 160.60,611.00 Q184.00,611.00 207.40,611.00" fill="none" stroke="#4a4a4a" stroke-opacity="0.07" stroke-width="5.0"/>
<path d="M124.60,622.70 C142.60,622.05 149.80,621.70 160.60,621.70 Q184.00,621.70 207.40,621.70" fill="none" stroke="#4a4a4a" stroke-opacity="0.12" stroke-width="5.2"/>
<path d="M124.60,633.60 C142.60,632.95 149.80,632.60 160.60,632.60 Q184.00,632.60 207.40,632.60" fill="none" stroke="#4a4a4a" stroke-opacity="0.21" stroke-width="5.4"/>
<path d="M124.60,646.20 C142.60,644.90 149.80,644.20 160.60,644.20 Q184.00,644.20 207.40,645.20" fill="none" stroke="#4a4a4a" stroke-opacity="0.26" stroke-width="5.6"/>
<path d="M124.60,658.90 C142.60,656.95 149.80,655.90 160.60,655.90 Q184.00,655.40 207.40,656.90" fill="none" stroke="#4a4a4a" stroke-opacity="0.33" stroke-width="5.8"/>
<path d="M124.60,670.60 C142.60,668.65 149.80,667.60 160.60,667.60 Q184.00,667.10 207.40,669.60" fill="none" stroke="#4a4a4a" stroke-opacity="0.37" stroke-width="6.0"/>
<path d="M124.60,684.80 C142.60,682.85 149.80,681.80 160.60,681.80 Q184.00,681.30 207.40,684.80" fill="none" stroke="#4a4a4a" stroke-opacity="0.4" stroke-width="6.2"/>
<path d="M124.60,701.20 C142.60,700.55 149.80,700.20 160.60,700.20 Q184.00,699.70 207.40,708.20" fill="none" stroke="#4a4a4a" stroke-opacity="0.28" stroke-width="6.0"/>
<rect x="130.60" y="708.00" width="72.80" height="13.40" fill="#c8c8c8" opacity="0.5"/>
</g></g>
<rect x="130.60" y="495.40" width="72.80" height="226.00" filter="url(#noise)" opacity="0.04"/>
</g>
<text x="262.50" y="483.70" font-size="11.2" text-anchor="start" font-weight="bold" fill="#111" >G</text>
<text x="305.00" y="491.70" font-size="9" text-anchor="start" font-weight="bold" fill="#111" textLength="30.8" lengthAdjust="spacingAndGlyphs" >Control</text>
<text x="365.50" y="511.70" font-size="9" text-anchor="start" font-weight="bold" fill="#111" textLength="18.8" lengthAdjust="spacingAndGlyphs" >NAC</text>
<path d="M267.40,554.70 C267.77,554.65 268.87,554.51 269.60,554.40 C270.33,554.29 271.07,554.15 271.80,554.06 C272.53,553.97 273.27,553.89 274.00,553.86 C274.73,553.83 275.47,553.99 276.20,553.87 C276.93,553.74 277.67,553.28 278.40,553.10 C279.13,552.92 279.87,552.88 280.60,552.78 C281.33,552.68 282.07,552.68 282.80,552.49 C283.53,552.30 284.27,551.83 285.00,551.65 C285.73,551.46 286.47,551.51 287.20,551.40 C287.93,551.28 288.67,551.10 289.40,550.96 C290.13,550.82 290.87,550.98 291.60,550.56 C292.33,550.15 293.07,549.03 293.80,548.47 C294.53,547.91 295.27,547.68 296.00,547.19 C296.73,546.70 297.47,545.95 298.20,545.53 C298.93,545.11 299.67,545.10 300.40,544.69 C301.13,544.27 301.87,543.67 302.60,543.04 C303.33,542.41 304.07,541.39 304.80,540.91 C305.53,540.43 306.27,540.58 307.00,540.17 C307.73,539.76 308.47,539.08 309.20,538.46 C309.93,537.85 310.67,537.18 311.40,536.49 C312.13,535.79 312.87,535.16 313.60,534.28 C314.33,533.41 315.07,532.20 315.80,531.23 C316.53,530.26 317.27,529.27 318.00,528.46 C318.73,527.65 319.47,527.08 320.20,526.36 C320.93,525.65 321.67,524.81 322.40,524.17 C323.13,523.53 323.87,523.08 324.60,522.51 C325.33,521.95 326.07,521.37 326.80,520.80 C327.53,520.23 328.27,519.56 329.00,519.09 C329.73,518.61 330.47,518.40 331.20,517.96 C331.93,517.51 332.67,516.87 333.40,516.42 C334.13,515.96 334.87,515.74 335.60,515.24 C336.33,514.73 337.07,513.95 337.80,513.40 C338.53,512.86 339.27,512.41 340.00,511.97 C340.73,511.52 341.47,511.08 342.20,510.71 C342.93,510.35 343.67,510.15 344.40,509.78 C345.13,509.41 345.87,508.93 346.60,508.51 C347.33,508.09 348.07,507.53 348.80,507.24 C349.53,506.95 350.27,507.03 351.00,506.77 C351.73,506.50 352.47,506.04 353.20,505.65 C353.93,505.26 354.67,504.82 355.40,504.41 C356.13,504.00 356.87,503.63 357.60,503.19 C358.33,502.74 359.07,502.15 359.80,501.73 C360.53,501.32 361.27,501.02 362.00,500.71 C362.73,500.40 363.47,500.20 364.20,499.88 C364.93,499.56 365.67,498.99 366.40,498.80 C367.13,498.60 367.87,498.87 368.60,498.69 C369.33,498.51 370.07,497.91 370.80,497.71 C371.53,497.50 372.27,497.69 373.00,497.45 C373.73,497.21 374.47,496.50 375.20,496.24 C375.93,495.98 376.67,496.10 377.40,495.88 C378.13,495.66 378.87,495.31 379.60,494.91 C380.33,494.51 381.07,493.77 381.80,493.48 C382.53,493.19 383.47,493.21 384.00,493.17 C384.53,493.12 384.33,493.34 385.00,493.20 C385.67,493.06 386.82,492.12 388.00,492.30 C389.18,492.48 390.52,494.63 392.10,494.30 C393.68,493.97 395.82,490.30 397.50,490.30 C399.18,490.30 400.30,494.98 402.20,494.30 C404.10,493.62 407.00,486.42 408.90,486.20 C410.80,485.98 411.68,493.67 413.60,493.00 C415.52,492.33 418.27,481.87 420.40,482.20 C422.53,482.53 424.17,496.35 426.40,495.00 C428.63,493.65 431.67,474.55 433.80,474.10 C435.93,473.65 437.07,493.42 439.20,492.30 C441.33,491.18 444.10,468.22 446.60,467.40 C449.10,466.58 451.72,487.58 454.20,487.40 C456.68,487.22 459.00,465.40 461.50,466.30 C464.00,467.20 466.62,491.35 469.20,492.80 C471.78,494.25 474.95,475.80 477.00,475.00 C479.05,474.20 479.97,483.00 481.50,488.00 C483.03,493.00 484.78,500.87 486.20,505.00 C487.62,509.13 487.95,513.82 490.00,512.80 C492.05,511.78 496.07,499.17 498.50,498.90 C500.93,498.63 502.30,506.45 504.60,511.20 C506.90,515.95 511.02,524.70 512.30,527.40" fill="none" stroke="#31527a" stroke-width="1.55" stroke-linejoin="round"/>
<path d="M267.40,554.70 C267.77,554.65 268.87,554.53 269.60,554.40 C270.33,554.28 271.07,554.10 271.80,553.94 C272.53,553.79 273.27,553.54 274.00,553.49 C274.73,553.44 275.47,553.75 276.20,553.62 C276.93,553.50 277.67,552.88 278.40,552.74 C279.13,552.61 279.87,552.88 280.60,552.80 C281.33,552.73 282.07,552.50 282.80,552.29 C283.53,552.08 284.27,551.68 285.00,551.53 C285.73,551.38 286.47,551.58 287.20,551.39 C287.93,551.21 288.67,550.62 289.40,550.43 C290.13,550.23 290.87,550.57 291.60,550.24 C292.33,549.91 293.07,548.99 293.80,548.45 C294.53,547.91 295.27,547.43 296.00,547.00 C296.73,546.56 297.47,546.21 298.20,545.83 C298.93,545.45 299.67,545.25 300.40,544.70 C301.13,544.15 301.87,543.13 302.60,542.53 C303.33,541.92 304.07,541.54 304.80,541.07 C305.53,540.60 306.27,540.26 307.00,539.71 C307.73,539.17 308.47,538.54 309.20,537.80 C309.93,537.06 310.67,536.13 311.40,535.27 C312.13,534.41 312.87,533.56 313.60,532.66 C314.33,531.77 315.07,531.05 315.80,529.90 C316.53,528.75 317.27,526.89 318.00,525.78 C318.73,524.66 319.47,524.29 320.20,523.22 C320.93,522.16 321.67,520.61 322.40,519.39 C323.13,518.18 323.87,517.07 324.60,515.95 C325.33,514.82 326.07,513.65 326.80,512.62 C327.53,511.58 328.27,510.63 329.00,509.71 C329.73,508.79 330.47,508.14 331.20,507.10 C331.93,506.05 332.67,504.41 333.40,503.45 C334.13,502.50 334.87,502.10 335.60,501.35 C336.33,500.61 337.07,499.82 337.80,498.98 C338.53,498.13 339.27,497.06 340.00,496.31 C340.73,495.55 341.47,495.16 342.20,494.45 C342.93,493.74 343.67,492.78 344.40,492.05 C345.13,491.32 345.87,490.68 346.60,490.07 C347.33,489.47 348.07,488.91 348.80,488.40 C349.53,487.90 350.27,487.62 351.00,487.06 C351.73,486.50 352.47,485.61 353.20,485.06 C353.93,484.50 354.67,484.10 355.40,483.73 C356.13,483.37 356.87,483.22 357.60,482.88 C358.33,482.53 359.07,482.00 359.80,481.66 C360.53,481.31 361.27,480.97 362.00,480.81 C362.73,480.65 363.47,480.83 364.20,480.70 C364.93,480.57 365.67,480.30 366.40,480.06 C367.13,479.81 367.87,479.39 368.60,479.25 C369.33,479.11 370.07,479.28 370.80,479.21 C371.53,479.15 372.27,478.89 373.00,478.84 C373.73,478.80 374.47,478.98 375.20,478.96 C375.93,478.93 376.67,478.83 377.40,478.69 C378.13,478.56 378.87,478.12 379.60,478.17 C380.33,478.21 381.07,478.90 381.80,478.98 C382.53,479.06 383.30,478.58 384.00,478.65 C384.70,478.72 384.77,479.37 386.00,479.40 C387.23,479.43 389.93,478.33 391.40,478.80 C392.87,479.27 393.45,482.20 394.80,482.20 C396.15,482.20 397.93,478.58 399.50,478.80 C401.07,479.02 402.63,483.60 404.20,483.50 C405.77,483.40 407.22,477.75 408.90,478.20 C410.58,478.65 412.38,486.65 414.30,486.20 C416.22,485.75 418.38,474.82 420.40,475.50 C422.42,476.18 424.17,490.53 426.40,490.30 C428.63,490.07 431.67,473.77 433.80,474.10 C435.93,474.43 437.07,493.32 439.20,492.30 C441.33,491.28 444.10,468.82 446.60,468.00 C449.10,467.18 451.72,487.68 454.20,487.40 C456.68,487.12 459.12,467.97 461.50,466.30 C463.88,464.63 466.23,477.48 468.50,477.40 C470.77,477.32 472.93,464.53 475.10,465.80 C477.27,467.07 479.65,479.22 481.50,485.00 C483.35,490.78 485.03,497.67 486.20,500.50 C487.37,503.33 487.48,502.27 488.50,502.00 C489.52,501.73 490.88,498.13 492.30,498.90 C493.72,499.67 495.22,502.50 497.00,506.60 C498.78,510.70 501.22,518.63 503.00,523.50 C504.78,528.37 506.15,531.95 507.70,535.80 C509.25,539.65 511.53,544.80 512.30,546.60" fill="none" stroke="#a31d4a" stroke-width="1.55" stroke-linejoin="round"/>
<line x1="313.50" y1="574.40" x2="313.50" y2="693.20" stroke="#111" stroke-width="1.35" />
<line x1="309.90" y1="693.20" x2="316.00" y2="693.20" stroke="#111" stroke-width="1.35" />
<line x1="309.90" y1="702.80" x2="316.00" y2="702.80" stroke="#111" stroke-width="1.35" />
<line x1="313.50" y1="702.80" x2="313.50" y2="713.30" stroke="#111" stroke-width="1.35" />
<line x1="312.90" y1="712.70" x2="504.70" y2="712.70" stroke="#111" stroke-width="1.35" />
<line x1="310.30" y1="693.00" x2="313.50" y2="693.00" stroke="#111" stroke-width="1.15" />
<text x="307.10" y="696.00" font-size="8.5" text-anchor="end" font-weight="normal" fill="#222" >25</text>
<line x1="310.30" y1="669.85" x2="313.50" y2="669.85" stroke="#111" stroke-width="1.15" />
<text x="307.10" y="672.85" font-size="8.5" text-anchor="end" font-weight="normal" fill="#222" >30</text>
<line x1="310.30" y1="646.70" x2="313.50" y2="646.70" stroke="#111" stroke-width="1.15" />
<text x="307.10" y="649.70" font-size="8.5" text-anchor="end" font-weight="normal" fill="#222" >35</text>
<line x1="310.30" y1="623.55" x2="313.50" y2="623.55" stroke="#111" stroke-width="1.15" />
<text x="307.10" y="626.55" font-size="8.5" text-anchor="end" font-weight="normal" fill="#222" >40</text>
<line x1="310.30" y1="600.40" x2="313.50" y2="600.40" stroke="#111" stroke-width="1.15" />
<text x="307.10" y="603.40" font-size="8.5" text-anchor="end" font-weight="normal" fill="#222" >45</text>
<line x1="310.30" y1="577.25" x2="313.50" y2="577.25" stroke="#111" stroke-width="1.15" />
<text x="307.10" y="580.25" font-size="8.5" text-anchor="end" font-weight="normal" fill="#222" >50</text>
<line x1="310.30" y1="712.70" x2="313.50" y2="712.70" stroke="#111" stroke-width="1.15" />
<text x="307.10" y="715.70" font-size="8.5" text-anchor="end" font-weight="normal" fill="#222" >0</text>
<line x1="315.40" y1="712.70" x2="315.40" y2="715.80" stroke="#111" stroke-width="1.15" />
<text x="315.40" y="726.50" font-size="8.5" text-anchor="middle" font-weight="normal" fill="#222" >0</text>
<line x1="337.70" y1="712.70" x2="337.70" y2="715.80" stroke="#111" stroke-width="1.15" />
<text x="337.70" y="726.50" font-size="8.5" text-anchor="middle" font-weight="normal" fill="#222" >1</text>
<line x1="360.00" y1="712.70" x2="360.00" y2="715.80" stroke="#111" stroke-width="1.15" />
<text x="360.00" y="726.50" font-size="8.5" text-anchor="middle" font-weight="normal" fill="#222" >2</text>
<line x1="382.30" y1="712.70" x2="382.30" y2="715.80" stroke="#111" stroke-width="1.15" />
<text x="382.30" y="726.50" font-size="8.5" text-anchor="middle" font-weight="normal" fill="#222" >3</text>
<line x1="404.60" y1="712.70" x2="404.60" y2="715.80" stroke="#111" stroke-width="1.15" />
<text x="404.60" y="726.50" font-size="8.5" text-anchor="middle" font-weight="normal" fill="#222" >4</text>
<line x1="426.90" y1="712.70" x2="426.90" y2="715.80" stroke="#111" stroke-width="1.15" />
<text x="426.90" y="726.50" font-size="8.5" text-anchor="middle" font-weight="normal" fill="#222" >5</text>
<line x1="449.20" y1="712.70" x2="449.20" y2="715.80" stroke="#111" stroke-width="1.15" />
<text x="449.20" y="726.50" font-size="8.5" text-anchor="middle" font-weight="normal" fill="#222" >6</text>
<line x1="471.50" y1="712.70" x2="471.50" y2="715.80" stroke="#111" stroke-width="1.15" />
<text x="471.50" y="726.50" font-size="8.5" text-anchor="middle" font-weight="normal" fill="#222" >7</text>
<line x1="493.80" y1="712.70" x2="493.80" y2="715.80" stroke="#111" stroke-width="1.15" />
<text x="493.80" y="726.50" font-size="8.5" text-anchor="middle" font-weight="normal" fill="#222" >8</text>
<text x="409.50" y="738.90" font-size="10.4" text-anchor="middle" font-weight="normal" fill="#222" textLength="46.5" lengthAdjust="spacingAndGlyphs" >Time (days)</text>
<text x="0" y="0" font-size="10.3" text-anchor="middle" fill="#222" textLength="104.2" lengthAdjust="spacingAndGlyphs" transform="translate(292.5,644.8) rotate(-90)">HMW VWF multimers (%)</text>
<text x="262.00" y="573.60" font-size="11.2" text-anchor="start" font-weight="bold" fill="#111" >H</text>
<line x1="320.40" y1="658.40" x2="503.70" y2="658.40" stroke="#111" stroke-width="1.1" stroke-dasharray="1.1,1.6"/>
<line x1="315.40" y1="661.52" x2="315.40" y2="646.70" stroke="#2a2a2a" stroke-width="1.2" />
<line x1="311.90" y1="646.70" x2="318.90" y2="646.70" stroke="#2a2a2a" stroke-width="1.4" />
<line x1="315.40" y1="655.03" x2="315.40" y2="676.33" stroke="#2a2a2a" stroke-width="1.2" />
<line x1="311.90" y1="676.33" x2="318.90" y2="676.33" stroke="#2a2a2a" stroke-width="1.4" />
<line x1="360.00" y1="624.01" x2="360.00" y2="611.51" stroke="#2a2a2a" stroke-width="1.2" />
<line x1="356.50" y1="611.51" x2="363.50" y2="611.51" stroke="#2a2a2a" stroke-width="1.4" />
<line x1="360.00" y1="632.35" x2="360.00" y2="641.14" stroke="#2a2a2a" stroke-width="1.2" />
<line x1="356.50" y1="641.14" x2="363.50" y2="641.14" stroke="#2a2a2a" stroke-width="1.4" />
<line x1="404.60" y1="645.31" x2="404.60" y2="636.05" stroke="#2a2a2a" stroke-width="1.2" />
<line x1="401.10" y1="636.05" x2="408.10" y2="636.05" stroke="#2a2a2a" stroke-width="1.4" />
<line x1="404.60" y1="660.59" x2="404.60" y2="678.65" stroke="#2a2a2a" stroke-width="1.2" />
<line x1="401.10" y1="678.65" x2="408.10" y2="678.65" stroke="#2a2a2a" stroke-width="1.4" />
<line x1="449.20" y1="646.24" x2="449.20" y2="638.37" stroke="#2a2a2a" stroke-width="1.2" />
<line x1="445.70" y1="638.37" x2="452.70" y2="638.37" stroke="#2a2a2a" stroke-width="1.4" />
<line x1="449.20" y1="672.63" x2="449.20" y2="689.30" stroke="#2a2a2a" stroke-width="1.2" />
<line x1="445.70" y1="689.30" x2="452.70" y2="689.30" stroke="#2a2a2a" stroke-width="1.4" />
<line x1="493.80" y1="653.18" x2="493.80" y2="648.55" stroke="#2a2a2a" stroke-width="1.2" />
<line x1="490.30" y1="648.55" x2="497.30" y2="648.55" stroke="#2a2a2a" stroke-width="1.4" />
<line x1="493.80" y1="671.70" x2="493.80" y2="686.52" stroke="#2a2a2a" stroke-width="1.2" />
<line x1="490.30" y1="686.52" x2="497.30" y2="686.52" stroke="#2a2a2a" stroke-width="1.4" />
<path d="M315.40,655.03 L360.00,632.35 L404.60,660.59 L449.20,672.63 L493.80,671.70" fill="none" stroke="#213e5f" stroke-width="1.8" stroke-linejoin="round"/>
<path d="M315.40,661.52 L360.00,624.01 L404.60,645.31 L449.20,646.24 L493.80,653.18" fill="none" stroke="#9a0f34" stroke-width="1.8" stroke-linejoin="round"/>
<circle cx="315.40" cy="655.03" r="2.95" fill="#fff" stroke="#213e5f" stroke-width="1.35"/>
<circle cx="360.00" cy="632.35" r="2.95" fill="#fff" stroke="#213e5f" stroke-width="1.35"/>
<circle cx="404.60" cy="660.59" r="2.95" fill="#fff" stroke="#213e5f" stroke-width="1.35"/>
<circle cx="449.20" cy="672.63" r="2.95" fill="#fff" stroke="#213e5f" stroke-width="1.35"/>
<circle cx="493.80" cy="671.70" r="2.95" fill="#fff" stroke="#213e5f" stroke-width="1.35"/>
<circle cx="315.40" cy="661.52" r="3.05" fill="#b80d3f" stroke="#820e30" stroke-width="0.9"/>
<circle cx="360.00" cy="624.01" r="3.05" fill="#b80d3f" stroke="#820e30" stroke-width="0.9"/>
<circle cx="404.60" cy="645.31" r="3.05" fill="#b80d3f" stroke="#820e30" stroke-width="0.9"/>
<circle cx="449.20" cy="646.24" r="3.05" fill="#b80d3f" stroke="#820e30" stroke-width="0.9"/>
<circle cx="493.80" cy="653.18" r="3.05" fill="#b80d3f" stroke="#820e30" stroke-width="0.9"/>
<text x="449.20" y="665.00" font-size="7.5" text-anchor="middle" font-weight="normal" fill="#222" >*</text>
<text x="493.80" y="665.00" font-size="7.5" text-anchor="middle" font-weight="normal" fill="#222" >*</text>
<line x1="404.80" y1="583.10" x2="418.30" y2="583.10" stroke="#74102c" stroke-width="1.8" />
<circle cx="411.10" cy="583.10" r="3.05" fill="#b80d3f" stroke="#820e30" stroke-width="0.9"/>
<text x="420.60" y="586.00" font-size="7.9" text-anchor="start" font-weight="normal" fill="#222" textLength="25.4" lengthAdjust="spacingAndGlyphs" >Control</text>
<line x1="456.00" y1="583.10" x2="468.70" y2="583.10" stroke="#1c3350" stroke-width="1.8" />
<circle cx="462.30" cy="583.10" r="2.95" fill="#fff" stroke="#213e5f" stroke-width="1.35"/>
<text x="471.80" y="586.00" font-size="7.9" text-anchor="start" font-weight="normal" fill="#222" textLength="16.5" lengthAdjust="spacingAndGlyphs" >NAC</text>
<rect x="0" y="0" width="1.55" height="748" fill="#000"/>
<rect x="0" y="0" width="520" height="1.6" fill="#000"/>
<rect x="518.45" y="0" width="1.55" height="748" fill="#000"/>
<rect x="0" y="746.45" width="520" height="1.55" fill="#000"/>
</svg>
</body></html>
